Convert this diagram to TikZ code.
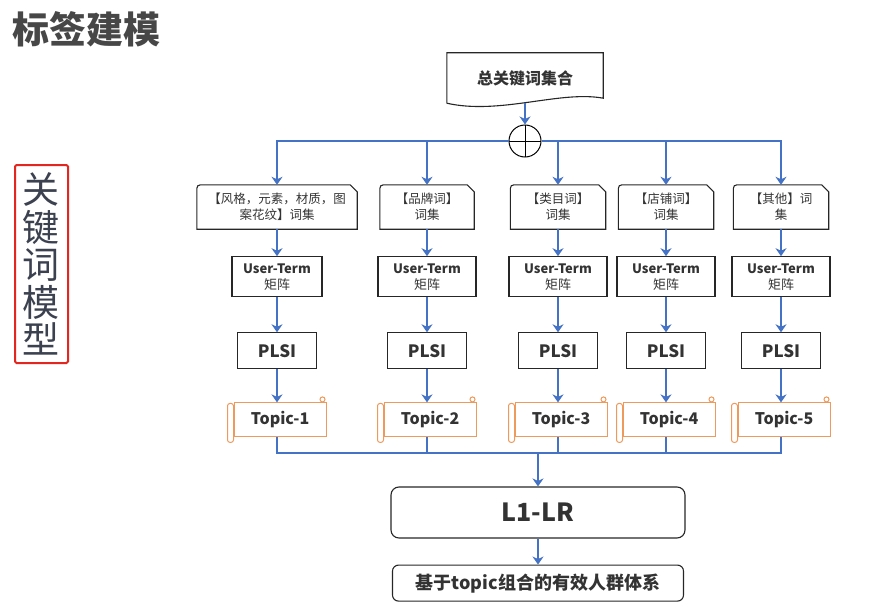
\documentclass[tikz,border=0pt]{standalone}
\usepackage{fontspec}
\setmainfont{Noto Sans CJK SC}
\usetikzlibrary{arrows.meta,positioning}
\definecolor{flowblue}{HTML}{4472C4}
\definecolor{inkgray}{HTML}{333333}
\definecolor{slategray}{HTML}{3C4150}
\definecolor{scrollorange}{HTML}{EE9A5C}
\definecolor{stampred}{HTML}{E3261F}
\tikzstyle{flow}=[
	->,
	>={Stealth[length=8pt,width=11pt,inset=2.5pt]},
	draw=flowblue,
	line width=2.6pt
]
\tikzstyle{bus}=[
	draw=flowblue,
	line width=2.6pt
]
\tikzstyle{wordset}=[
	rectangle,
	align=center,
	text=inkgray,
	minimum height=44pt,
	inner sep=2pt,
	font=\fontsize{12.5}{16}\selectfont
]
\tikzstyle{matrixbox}=[
	rectangle,
	draw=black!85,
	line width=1.1pt,
	align=center,
	text=inkgray,
	minimum width=98pt,
	minimum height=40pt,
	inner sep=2pt,
	font=\fontsize{13}{16}\selectfont
]
\tikzstyle{plsibox}=[
	rectangle,
	draw=black!85,
	line width=1.1pt,
	text=inkgray,
	minimum width=79pt,
	minimum height=36pt,
	font=\fontsize{17}{20}\selectfont\bfseries
]
\tikzstyle{topicbox}=[
	rectangle,
	draw=scrollorange,
	line width=1pt,
	text=inkgray,
	minimum width=92pt,
	minimum height=34pt,
	font=\fontsize{16}{19}\selectfont\bfseries
]
\tikzstyle{resultbox}=[
	rectangle,
	rounded corners=8pt,
	draw=black!85,
	line width=1.1pt,
	text=inkgray
]
\tikzstyle{setframe}=[
	draw=black!85,
	line width=1.1pt
]
\tikzstyle{scrollline}=[
	draw=scrollorange,
	fill=white,
	line width=1pt
]
% word-set box: round top left, cut top right
\newcommand{\wordsetframe}[1]{
	\draw [setframe] (#1.south west) -- ([yshift=-8pt]#1.north west)
		.. controls (#1.north west) .. ([xshift=8pt]#1.north west)
		-- ([xshift=-7pt]#1.north east) -- ([yshift=-7pt]#1.north east)
		-- (#1.south east) -- cycle;
}
% rolled ends of a topic scroll
\newcommand{\scrollends}[1]{
	\draw [scrollline, rounded corners=2.5pt] ([xshift=-6pt,yshift=-1pt]#1.north west) rectangle ([yshift=-5pt]#1.south west);
	\draw [scrollline] ([xshift=-4pt,yshift=3pt]#1.north east) circle (2.5pt);
}

\begin{document}
\begin{tikzpicture}[x=1pt,y=-1pt]
\useasboundingbox (0,0) rectangle (889,610);

\node [anchor=west, text=inkgray!90!white, font=\fontsize{37}{40}\selectfont\bfseries] (title) at (9,29) {标签建模};
\node [draw=stampred, line width=2pt, rounded corners=1.5pt, align=center, text=slategray, inner sep=0pt,
	minimum width=53pt, minimum height=198pt, font=\fontsize{37}{37.5}\selectfont] (model) at (41.5,264) {关\\键\\词\\模\\型};

% top of the flow
\node [text=inkgray, minimum width=156pt, minimum height=50pt, font=\fontsize{16}{19}\selectfont\bfseries] (allwords) at (525,78) {总关键词集合};
\draw [setframe] (allwords.south west) -- (allwords.north west) -- (allwords.north east)
	-- ([yshift=5pt]allwords.south east)
	.. controls ([xshift=-43pt,yshift=13pt]allwords.south east) and ([xshift=53pt,yshift=-12pt]allwords.south west) .. (allwords.south west);
\node [circle, draw=black, line width=1pt, minimum size=32pt, inner sep=0pt,
	path picture={\draw [line width=0.8pt] (path picture bounding box.north) -- (path picture bounding box.south)
		(path picture bounding box.west) -- (path picture bounding box.east);}] (sum) at (525,141) {};
\draw [flow] (allwords.south) -- (sum);

% word sets
\node [wordset, minimum width=160pt] (set1) at (277,207) {【风格，元素，材质，图\\案花纹】词集};
\node [wordset, minimum width=94pt] (set2) at (427,207) {【品牌词】\\词集};
\node [wordset, minimum width=95pt] (set3) at (558,207) {【类目词】\\词集};
\node [wordset, minimum width=95pt] (set4) at (666,207) {【店铺词】\\词集};
\node [wordset, minimum width=95pt] (set5) at (781,207) {【其他】词\\集};
\wordsetframe{set1}
\wordsetframe{set2}
\wordsetframe{set3}
\wordsetframe{set4}
\wordsetframe{set5}
\draw [flow] (sum.west) -| (set1);
\draw [flow] (sum.west) -| (set2);
\draw [flow] (sum.east) -| (set3);
\draw [flow] (sum.east) -| (set4);
\draw [flow] (sum.east) -| (set5);

% columns
\node [matrixbox, minimum width=90pt] (ut1) [below=27pt of set1] {\textbf{User-Term}\\矩阵}
	edge [flow, <-] (set1);
\node [matrixbox] (ut2) [below=27pt of set2] {\textbf{User-Term}\\矩阵}
	edge [flow, <-] (set2);
\node [matrixbox] (ut3) [below=27pt of set3] {\textbf{User-Term}\\矩阵}
	edge [flow, <-] (set3);
\node [matrixbox] (ut4) [below=27pt of set4] {\textbf{User-Term}\\矩阵}
	edge [flow, <-] (set4);
\node [matrixbox] (ut5) [below=27pt of set5] {\textbf{User-Term}\\矩阵}
	edge [flow, <-] (set5);

\node [plsibox] (plsi1) [below=35pt of ut1] {PLSI}
	edge [flow, <-] (ut1);
\node [plsibox] (plsi2) [below=35pt of ut2] {PLSI}
	edge [flow, <-] (ut2);
\node [plsibox] (plsi3) [below=35pt of ut3] {PLSI}
	edge [flow, <-] (ut3);
\node [plsibox] (plsi4) [below=35pt of ut4] {PLSI}
	edge [flow, <-] (ut4);
\node [plsibox] (plsi5) [below=35pt of ut5] {PLSI}
	edge [flow, <-] (ut5);

\node [topicbox] (topic1) [below=33pt of plsi1, xshift=3pt] {Topic-1};
\node [topicbox] (topic2) [below=33pt of plsi2, xshift=3pt] {Topic-2};
\node [topicbox] (topic3) [below=33pt of plsi3, xshift=3pt] {Topic-3};
\node [topicbox] (topic4) [below=33pt of plsi4, xshift=3pt] {Topic-4};
\node [topicbox] (topic5) [below=33pt of plsi5, xshift=3pt] {Topic-5};
\scrollends{topic1}
\scrollends{topic2}
\scrollends{topic3}
\scrollends{topic4}
\scrollends{topic5}
\draw [flow] (plsi1) -- (plsi1 |- topic1.north);
\draw [flow] (plsi2) -- (plsi2 |- topic2.north);
\draw [flow] (plsi3) -- (plsi3 |- topic3.north);
\draw [flow] (plsi4) -- (plsi4 |- topic4.north);
\draw [flow] (plsi5) -- (plsi5 |- topic5.north);

% merge
\coordinate (join) at (538,453);
\draw [bus] (plsi1 |- topic1.south) |- (join) -| (plsi5 |- topic5.south);
\draw [bus] (plsi2 |- topic2.south) -- (plsi2 |- join);
\draw [bus] (plsi3 |- topic3.south) -- (plsi3 |- join);
\draw [bus] (plsi4 |- topic4.south) -- (plsi4 |- join);

\node [resultbox, minimum width=294pt, minimum height=51pt, font=\fontsize{25}{30}\selectfont\bfseries] (lr) at (538,512.5) {L1-LR};
\draw [flow] (join) -- (lr);
\node [resultbox, rounded corners=6pt, minimum width=291pt, minimum height=36pt, font=\fontsize{18}{21}\selectfont\bfseries] (crowd) [below=26pt of lr] {基于topic组合的有效人群体系}
	edge [flow, <-] (lr);
\end{tikzpicture}
\end{document}
